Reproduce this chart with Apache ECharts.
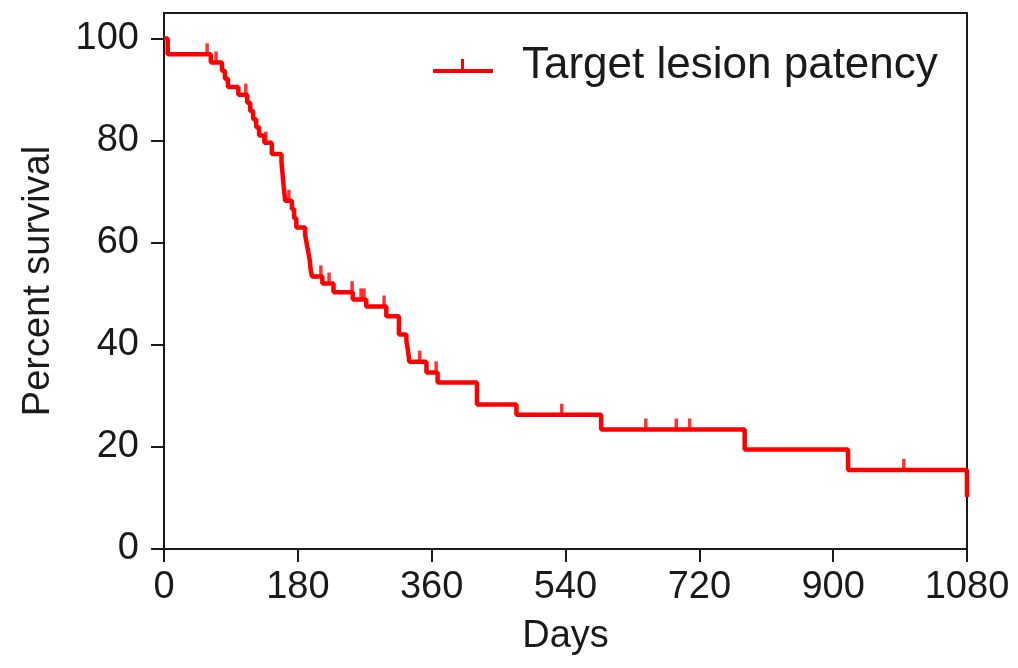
<!DOCTYPE html>
<html>
<head>
<meta charset="utf-8">
<script src="https://cdn.jsdelivr.net/npm/echarts@6/dist/echarts.min.js"></script>
<style>
  html, body { margin: 0; padding: 0; background: #fff; }
  #chart { width: 1018px; height: 668px; }
</style>
</head>
<body>
<div id="chart"></div>
<script>
// Kaplan-Meier steps: day of event, percent surviving after it
const eventDays = [0, 5, 63, 78, 82, 86, 100, 112, 116, 120, 124, 128, 135, 145, 158, 159, 160, 161, 162, 163,
  172, 175, 178, 190, 192, 194, 196, 197, 199, 213, 228, 254, 272, 299, 316, 326, 328, 330, 353, 368,
  421, 474, 588, 781, 920, 1080];
const survival = [100, 96.9, 95.3, 93.7, 92.1, 90.5, 89.0, 87.4, 85.8, 84.2, 82.6, 81.0, 79.6, 77.4, 75.8, 74.2, 72.6, 71.0, 69.6, 68.2,
  66.6, 64.8, 63.0, 61.4, 59.8, 58.2, 56.6, 55.0, 53.4, 52.0, 50.3, 48.9, 47.5, 45.6, 42.0, 40.7, 39.0, 36.7, 34.6, 32.6,
  28.3, 26.3, 23.4, 19.5, 15.5, 10.2];

// censored observations (tick marks)
const censorDays = [58, 70, 110, 137, 168, 211, 222, 253, 265, 269, 296, 344, 366, 535, 648, 689, 707, 995];
const censorValues = [96.9, 95.3, 89.0, 79.6, 68.2, 53.4, 52.0, 50.3, 48.9, 48.9, 47.5, 36.7, 34.6, 26.3, 23.4, 23.4, 23.4, 15.5];

const xTicks = [0, 180, 360, 540, 720, 900, 1080];
const yTicks = [0, 20, 40, 60, 80, 100];
const seriesName = 'Target lesion patency';

const font = "'Liberation Sans', Arial, sans-serif";
const ink = '#1a1a1a';
const red = '#ff0000';

const chart = echarts.init(document.getElementById('chart'));

chart.setOption({
  animation: false,
  backgroundColor: '#fff',
  textStyle: { fontFamily: font },
  grid: {
    left: 164,
    right: 51,
    top: 13,
    bottom: 119,
    show: true,
    borderColor: ink,
    borderWidth: 2,
  },
  legend: {
    data: [seriesName],
    left: 433,
    top: 44,
    padding: 0,
    itemWidth: 60,
    itemHeight: 14,
    icon: 'path://M0,10L60,10L60,14L0,14Z M28,0L31,0L31,10L28,10Z',
    itemStyle: { color: red },
    textStyle: {
      fontFamily: font,
      fontSize: 44,
      color: ink,
      padding: [0, 0, 0, 24],
    },
  },
  xAxis: {
    type: 'value',
    min: 0,
    max: 1080,
    interval: 180,
    name: 'Days',
    nameLocation: 'middle',
    nameGap: 69,
    nameTextStyle: { fontFamily: font, fontSize: 38, color: ink },
    axisLine: { lineStyle: { color: ink, width: 2 } },
    axisTick: { show: true, length: 13, lineStyle: { color: ink, width: 2 }, customValues: xTicks },
    axisLabel: {
      fontFamily: font, fontSize: 38, color: ink, margin: 20, customValues: xTicks,
      formatter: (v) => String(v),
    },
    splitLine: { show: false },
  },
  yAxis: {
    type: 'value',
    min: 0,
    max: 105,
    interval: 20,
    name: 'Percent survival',
    nameLocation: 'middle',
    nameGap: 106,
    nameTextStyle: { fontFamily: font, fontSize: 38, color: ink },
    axisLine: { show: true, lineStyle: { color: ink, width: 2 } },
    axisTick: { show: true, length: 13, lineStyle: { color: ink, width: 2 }, customValues: yTicks },
    axisLabel: {
      fontFamily: font, fontSize: 38, color: ink, margin: 25, customValues: yTicks,
      formatter: (v) => String(v),
    },
    splitLine: { show: false },
  },
  series: [
    {
      name: seriesName,
      type: 'line',
      step: 'end',
      showSymbol: false,
      data: eventDays.map((d, i) => [d, survival[i]]),
      lineStyle: { color: red, width: 4.5 },
      itemStyle: { color: red },
      z: 3,
    },
    {
      name: 'censored',
      type: 'scatter',
      data: censorDays.map((d, i) => [d, censorValues[i]]),
      symbol: 'rect',
      symbolSize: [3.5, 11],
      symbolOffset: [0, -5.5],
      itemStyle: { color: red },
      z: 4,
    },
  ],
});
</script>
</body>
</html>
